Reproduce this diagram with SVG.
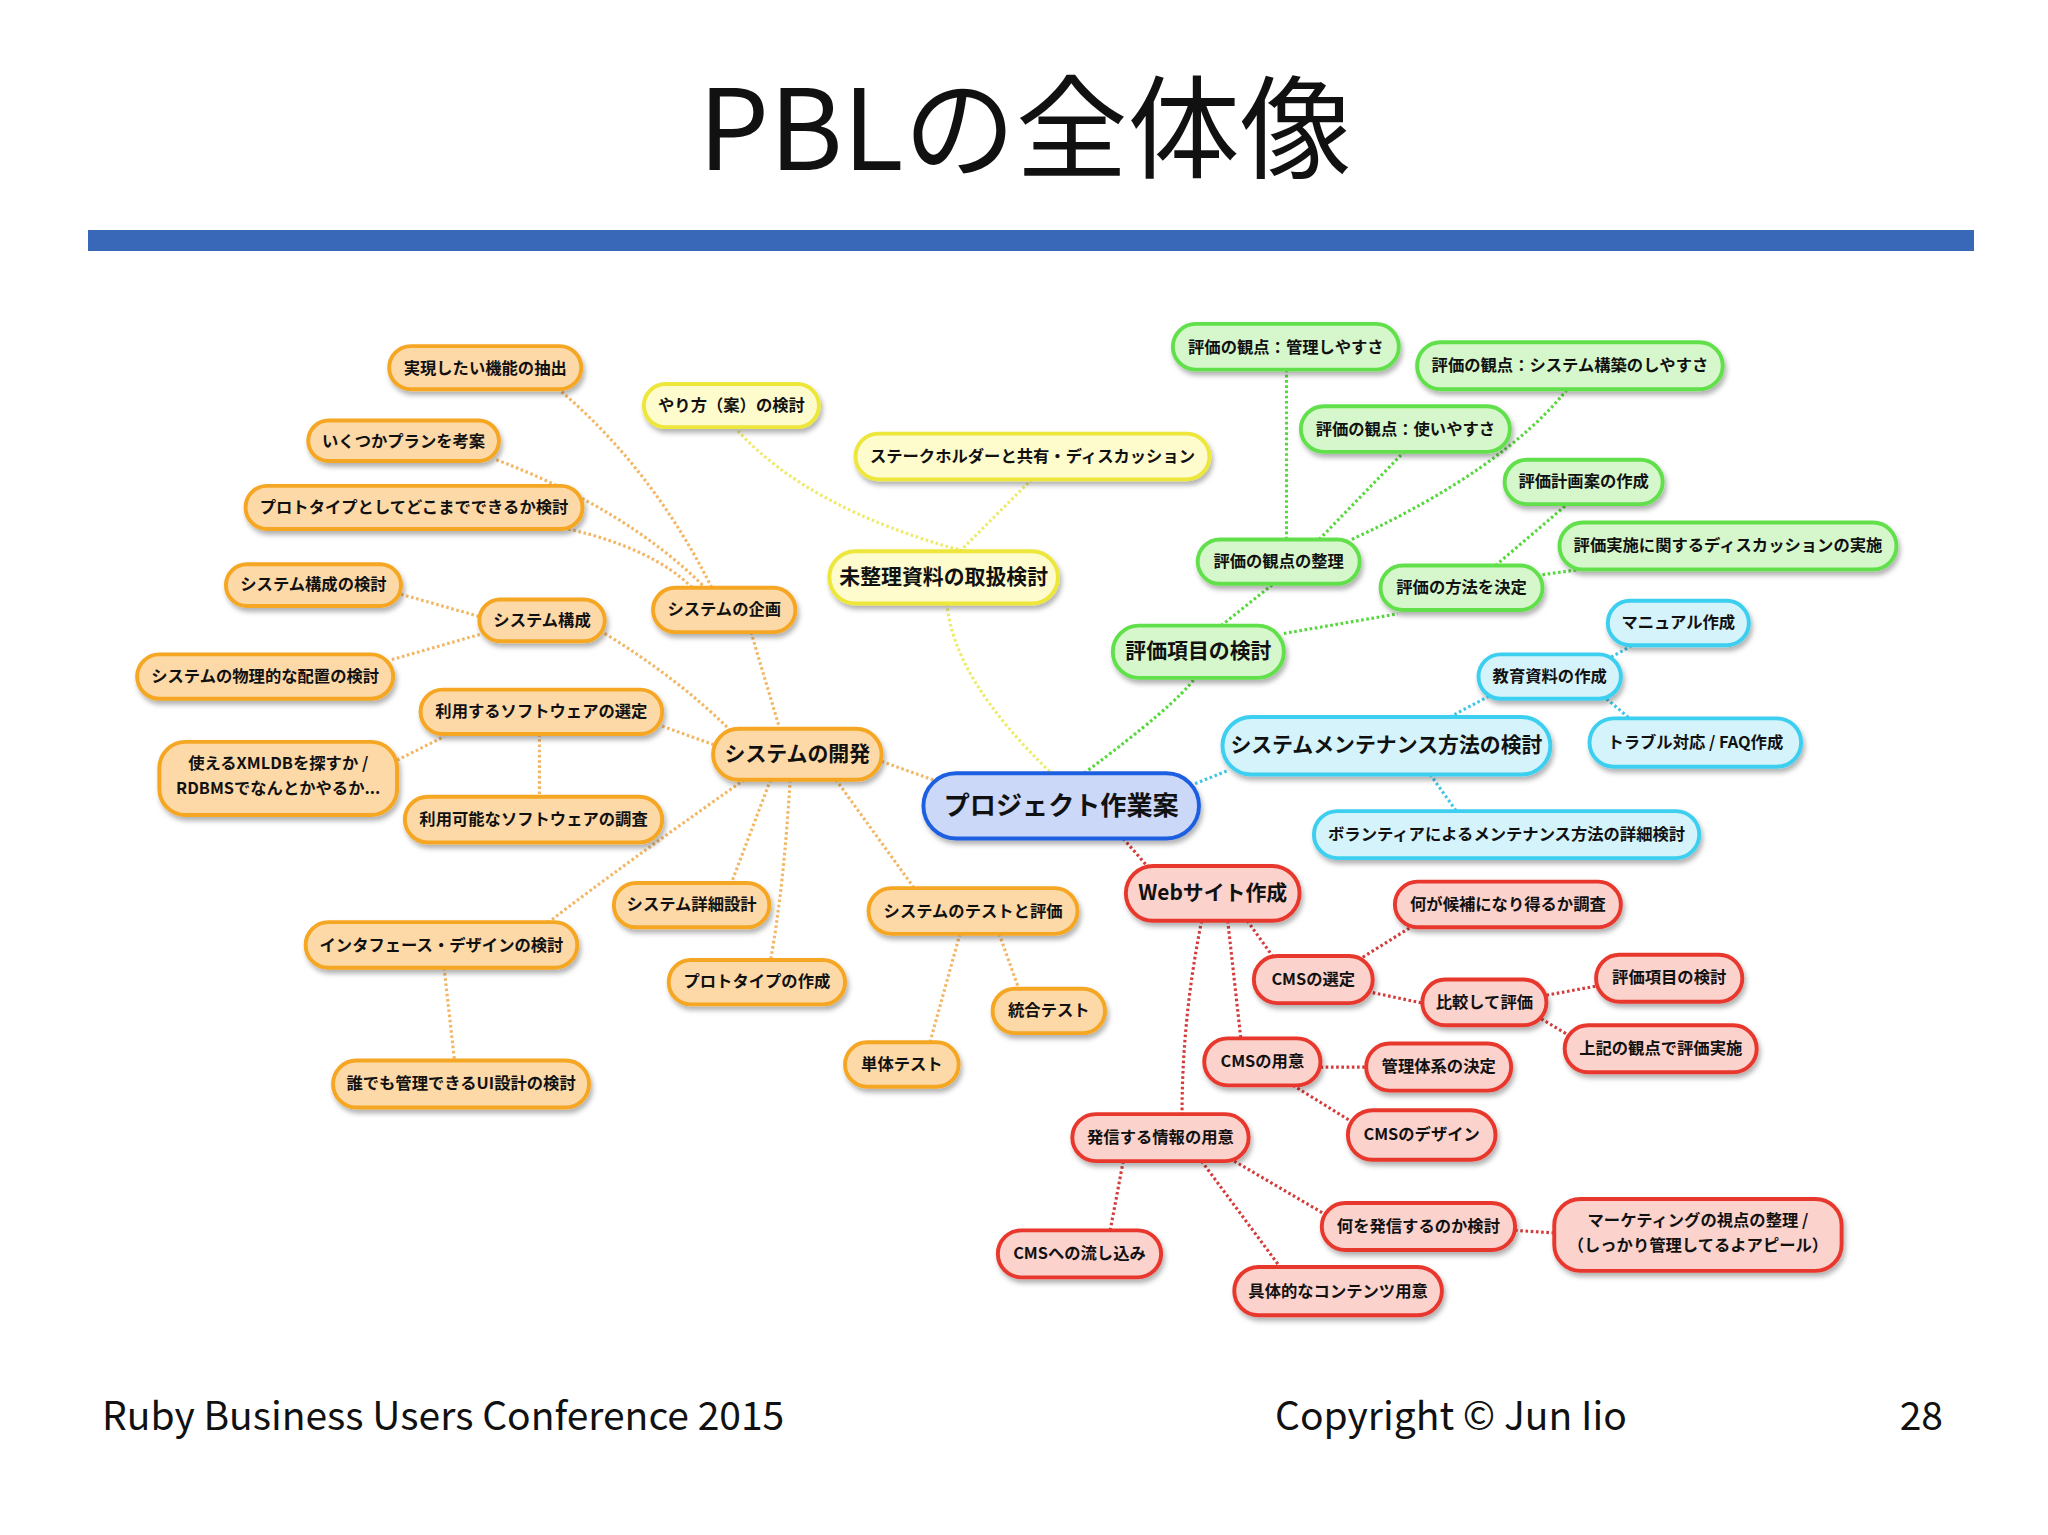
<svg xmlns="http://www.w3.org/2000/svg" width="2048" height="1535" viewBox="0 0 2048 1535">
<style>
text{font-family:"Noto Sans CJK JP","Noto Sans",sans-serif;fill:#111;text-anchor:middle}
.n text{font-weight:bold;font-size:12.5px}
.L text{font-size:16px}
.n rect{stroke-width:3;filter:url(#sh)}
.o rect{fill:#fdd9a8;stroke:#f5a623}
.y rect{fill:#fefbcc;stroke:#ede63a}
.g rect{fill:#d6f7cc;stroke:#62e04c}
.c rect{fill:#d4f3fb;stroke:#3ccff0}
.b rect{fill:#ccd8f8;stroke:#1f5ee0}
.r rect{fill:#fbd2cc;stroke:#e8392e}
#edges path{fill:none;stroke-width:2.4;stroke-dasharray:2 2}
.eo{stroke:#f2b765}.ey{stroke:#eeea6a}.eg{stroke:#55d83a}.ec{stroke:#3fc6e6}.er{stroke:#d43c3c}
</style>
<defs><filter id="sh" x="-20%" y="-30%" width="140%" height="170%"><feDropShadow dx="1.5" dy="3" stdDeviation="2" flood-opacity="0.3"/></filter></defs>
<rect width="2048" height="1535" fill="#fff"/>
<text x="1025" y="170" style="font-size:112px;font-family:'Noto Sans CJK JP',sans-serif">PBLの全体像</text>
<rect x="88" y="230" width="1886" height="21" fill="#3a68b8"/>
<text x="102" y="1430" style="font-size:39px;text-anchor:start">Ruby Business Users Conference 2015</text>
<text x="1275" y="1430" style="font-size:39px;text-anchor:start">Copyright © Jun Iio</text>
<text x="1943" y="1430" style="font-size:39px;text-anchor:end">28</text>
<g transform="scale(1.3061)">
<g id="edges">
<path class="eo" d="M430 300Q500 360 545 450M380 352Q480 390 540 450M435 405Q500 420 530 450M575 484L597 558M307 455L367 472M300 505L370 485M463 485Q520 520 560 560M507 556L546 570M304 582L340 564M413 562L413 610M570 597Q480 660 420 706M590 597L560 676M605 597Q600 680 590 735M640 597L700 680M675 583L717 598M340 741L348 812M735 715L712 798M765 715L780 757"/>
<path class="ey" d="M565 330Q620 390 738 422M790 367L735 422M725 462Q730 520 805 592"/>
<path class="eg" d="M830 592Q900 540 915 519M935 479L975 447M983 485L1070 470M985 413L985 283M1010 413L1075 346M1035 413Q1150 360 1200 298M1145 433L1200 386M1181 440L1210 436"/>
<path class="ec" d="M915 600L940 590M1110 549L1140 533M1230 505L1250 494M1230 535L1250 552M1095 593L1115 621"/>
<path class="er" d="M860 642L880 665M955 705L975 733M940 705L950 795M920 705Q905 780 905 853M1040 735L1080 710M1051 760L1089 768M1184 762L1222 755M1180 780L1205 795M1011 817L1046 817M990 831L1040 862M860 889L850 942M920 889L980 970M945 889L1015 930M1160 942L1190 944"/>
</g>
<g id="n1" class="n o"><rect x="298" y="265" width="147" height="33" rx="16.5"/><text x="371.5" y="286">実現したい機能の抽出</text></g>
<g id="n2" class="n o"><rect x="236" y="322" width="146" height="31" rx="15.5"/><text x="309" y="342">いくつかプランを考案</text></g>
<g id="n3" class="n o"><rect x="188" y="372" width="258" height="33" rx="16.5"/><text x="317" y="393">プロトタイプとしてどこまでできるか検討</text></g>
<g id="n4" class="n o"><rect x="173" y="432" width="134" height="32" rx="16"/><text x="240" y="452">システム構成の検討</text></g>
<g id="n5" class="n o"><rect x="367" y="459" width="96" height="32" rx="16"/><text x="415" y="479">システム構成</text></g>
<g id="n6" class="n o"><rect x="105" y="501" width="196" height="34" rx="17"/><text x="203" y="522">システムの物理的な配置の検討</text></g>
<g id="n7" class="n o"><rect x="500" y="450" width="109" height="34" rx="17"/><text x="554.5" y="471">システムの企画</text></g>
<g id="n8" class="n o"><rect x="322" y="528" width="185" height="34" rx="17"/><text x="414.5" y="549">利用するソフトウェアの選定</text></g>
<g id="n9" class="n o"><rect x="122" y="568" width="182" height="56" rx="20"/><text x="213" y="589">使えるXMLDBを探すか /</text><text x="213" y="608">RDBMSでなんとかやるか...</text></g>
<g id="n10" class="n o"><rect x="310" y="610" width="197" height="35" rx="17.5"/><text x="408.5" y="632">利用可能なソフトウェアの調査</text></g>
<g id="n11" class="n o L"><rect x="546" y="558" width="129" height="39" rx="19.5"/><text x="610.5" y="583">システムの開発</text></g>
<g id="n12" class="n o"><rect x="470" y="676" width="119" height="34" rx="17"/><text x="529.5" y="697">システム詳細設計</text></g>
<g id="n13" class="n o"><rect x="234" y="706" width="208" height="35" rx="17.5"/><text x="338" y="728">インタフェース・デザインの検討</text></g>
<g id="n14" class="n o"><rect x="512" y="735" width="135" height="34" rx="17"/><text x="579.5" y="756">プロトタイプの作成</text></g>
<g id="n15" class="n o"><rect x="665" y="680" width="160" height="35" rx="17.5"/><text x="745" y="702">システムのテストと評価</text></g>
<g id="n16" class="n o"><rect x="760" y="757" width="86" height="34" rx="17"/><text x="803" y="778">統合テスト</text></g>
<g id="n17" class="n o"><rect x="647" y="798" width="87" height="34" rx="17"/><text x="690.5" y="819">単体テスト</text></g>
<g id="n18" class="n o"><rect x="255" y="812" width="196" height="36" rx="18"/><text x="353" y="834">誰でも管理できるUI設計の検討</text></g>
<g id="n19" class="n y"><rect x="493" y="294" width="134" height="33" rx="16.5"/><text x="560" y="315">やり方（案）の検討</text></g>
<g id="n20" class="n y"><rect x="655" y="332" width="271" height="35" rx="17.5"/><text x="790.5" y="354">ステークホルダーと共有・ディスカッション</text></g>
<g id="n21" class="n y L"><rect x="635" y="422" width="175" height="40" rx="20"/><text x="722.5" y="447">未整理資料の取扱検討</text></g>
<g id="n22" class="n g"><rect x="898" y="248" width="173" height="35" rx="17.5"/><text x="984.5" y="270">評価の観点：管理しやすさ</text></g>
<g id="n23" class="n g"><rect x="1085" y="262" width="234" height="36" rx="18"/><text x="1202" y="284">評価の観点：システム構築のしやすさ</text></g>
<g id="n24" class="n g"><rect x="996" y="311" width="160" height="35" rx="17.5"/><text x="1076" y="333">評価の観点：使いやすさ</text></g>
<g id="n25" class="n g"><rect x="1152" y="352" width="121" height="34" rx="17"/><text x="1212.5" y="373">評価計画案の作成</text></g>
<g id="n26" class="n g"><rect x="1194" y="400" width="258" height="36" rx="18"/><text x="1323" y="422">評価実施に関するディスカッションの実施</text></g>
<g id="n27" class="n g"><rect x="917" y="413" width="124" height="34" rx="17"/><text x="979" y="434">評価の観点の整理</text></g>
<g id="n28" class="n g"><rect x="1057" y="433" width="124" height="34" rx="17"/><text x="1119" y="454">評価の方法を決定</text></g>
<g id="n29" class="n g L"><rect x="852" y="479" width="131" height="40" rx="20"/><text x="917.5" y="504">評価項目の検討</text></g>
<g id="n30" class="n c"><rect x="1231" y="460" width="108" height="34" rx="17"/><text x="1285" y="481">マニュアル作成</text></g>
<g id="n31" class="n c"><rect x="1132" y="501" width="109" height="34" rx="17"/><text x="1186.5" y="522">教育資料の作成</text></g>
<g id="n32" class="n c"><rect x="1217" y="550" width="162" height="37" rx="18.5"/><text x="1298" y="573">トラブル対応 / FAQ作成</text></g>
<g id="n33" class="n c L"><rect x="936" y="549" width="251" height="44" rx="22"/><text x="1061.5" y="576">システムメンテナンス方法の検討</text></g>
<g id="n34" class="n c"><rect x="1006" y="621" width="295" height="36" rx="18"/><text x="1153.5" y="643">ボランティアによるメンテナンス方法の詳細検討</text></g>
<g id="n35" class="n b" style="font-size:20px"><rect x="707" y="592" width="211" height="50" rx="25"/><text x="812.5" y="624" style="font-size:20px">プロジェクト作業案</text></g>
<g id="n36" class="n r L"><rect x="862" y="663" width="133" height="42" rx="21"/><text x="928.5" y="689">Webサイト作成</text></g>
<g id="n37" class="n r"><rect x="1068" y="675" width="173" height="35" rx="17.5"/><text x="1154.5" y="697">何が候補になり得るか調査</text></g>
<g id="n38" class="n r"><rect x="960" y="732" width="91" height="36" rx="18"/><text x="1005.5" y="754">CMSの選定</text></g>
<g id="n39" class="n r"><rect x="1089" y="750" width="95" height="35" rx="17.5"/><text x="1136.5" y="772">比較して評価</text></g>
<g id="n40" class="n r"><rect x="1222" y="731" width="112" height="36" rx="18"/><text x="1278" y="753">評価項目の検討</text></g>
<g id="n41" class="n r"><rect x="1198" y="785" width="147" height="36" rx="18"/><text x="1271.5" y="807">上記の観点で評価実施</text></g>
<g id="n42" class="n r"><rect x="922" y="795" width="89" height="36" rx="18"/><text x="966.5" y="817">CMSの用意</text></g>
<g id="n43" class="n r"><rect x="1046" y="799" width="111" height="36" rx="18"/><text x="1101.5" y="821">管理体系の決定</text></g>
<g id="n44" class="n r"><rect x="1032" y="850" width="113" height="38" rx="19"/><text x="1088.5" y="873">CMSのデザイン</text></g>
<g id="n45" class="n r"><rect x="821" y="853" width="135" height="36" rx="18"/><text x="888.5" y="875">発信する情報の用意</text></g>
<g id="n46" class="n r"><rect x="1012" y="921" width="148" height="36" rx="18"/><text x="1086" y="943">何を発信するのか検討</text></g>
<g id="n47" class="n r"><rect x="1190" y="918" width="220" height="55" rx="20"/><text x="1300" y="939">マーケティングの視点の整理 /</text><text x="1300" y="958">（しっかり管理してるよアピール）</text></g>
<g id="n48" class="n r"><rect x="764" y="942" width="125" height="36" rx="18"/><text x="826.5" y="964">CMSへの流し込み</text></g>
<g id="n49" class="n r"><rect x="945" y="970" width="159" height="37" rx="18.5"/><text x="1024.5" y="993">具体的なコンテンツ用意</text></g>
</g>
</svg>
